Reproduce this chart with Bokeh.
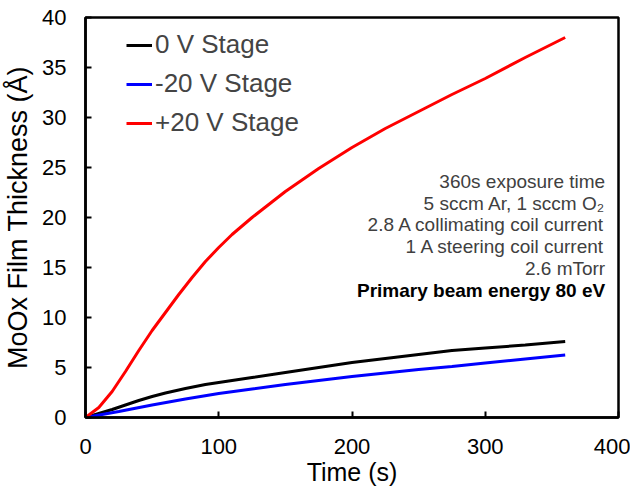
from bokeh.plotting import figure
from bokeh.models import Range1d, Legend, LegendItem, Label, FixedTicker
from bokeh.embed import file_html
from bokeh.resources import INLINE

# ---- data ----
t_red = [0, 10, 20, 30, 40, 50, 60, 70, 80, 90, 100, 110, 125, 150, 175, 200, 225, 250, 275, 300, 330, 360]
v_red = [0, 1.0, 2.6, 4.6, 6.7, 8.7, 10.5, 12.3, 14.0, 15.6, 17.0, 18.3, 20.0, 22.6, 24.9, 27.0, 28.9, 30.6, 32.3, 33.9, 36.0, 38.0]

t_black = [0, 10, 20, 30, 40, 50, 60, 75, 90, 100, 125, 150, 175, 200, 225, 250, 275, 300, 330, 360]
v_black = [0, 0.4, 0.8, 1.25, 1.7, 2.1, 2.45, 2.9, 3.3, 3.5, 4.0, 4.5, 5.0, 5.5, 5.9, 6.3, 6.7, 6.95, 7.25, 7.6]

t_blue = [0, 25, 50, 75, 100, 125, 150, 175, 200, 225, 250, 275, 300, 330, 360]
v_blue = [0, 0.6, 1.25, 1.85, 2.4, 2.85, 3.3, 3.7, 4.1, 4.45, 4.8, 5.1, 5.45, 5.85, 6.25]

series_names = ["0 V Stage", "-20 V Stage", "+20 V Stage"]
x_ticks = [0, 100, 200, 300, 400]
y_ticks = [0, 5, 10, 15, 20, 25, 30, 35, 40]
notes = ["360s exposure time", "5 sccm Ar, 1 sccm O\u2082", "2.8 A collimating coil current",
         "1 A steering coil current", "2.6 mTorr", "Primary beam energy 80 eV"]

FONT = "Liberation Sans"

p = figure(width=630, height=490, output_backend="svg", toolbar_location=None,
           x_range=Range1d(0, 400), y_range=Range1d(0, 40),
           min_border_left=80, min_border_top=17, min_border_right=12, min_border_bottom=73)
p.background_fill_color = "white"
p.border_fill_color = "white"
p.outline_line_color = "black"
p.outline_line_width = 2.5
p.outline_line_alpha = 1
p.grid.visible = False

p.xaxis.ticker = FixedTicker(ticks=x_ticks)
p.yaxis.ticker = FixedTicker(ticks=y_ticks)
for ax in (p.xaxis[0], p.yaxis[0]):
    ax.axis_line_width = 2.5
    ax.axis_line_color = "black"
    ax.major_tick_in = 6
    ax.major_tick_out = 0
    ax.major_tick_line_width = 2
    ax.major_tick_line_color = "black"
    ax.minor_tick_line_color = None
    ax.major_label_text_font = FONT
    ax.major_label_text_font_size = "22px"
    ax.major_label_text_color = "black"
    ax.axis_label_text_font = FONT
    ax.axis_label_text_font_size = "25px"
    ax.axis_label_text_font_style = "normal"
    ax.axis_label_text_color = "black"

p.xaxis.axis_label = "Time (s)"
p.yaxis.axis_label = "MoOx Film Thickness (\u00c5)"
p.yaxis.axis_label_text_font_size = "27px"
p.xaxis.major_label_standoff = 21
p.yaxis.major_label_standoff = 19
p.xaxis.axis_label_standoff = 1
p.yaxis.axis_label_standoff = 6

r0 = p.line(t_black, v_black, line_color="black", line_width=3)
r1 = p.line(t_blue, v_blue, line_color="#0000ff", line_width=3)
r2 = p.line(t_red, v_red, line_color="#ff0000", line_width=3)

legend = Legend(items=[LegendItem(label=series_names[0], renderers=[r0]),
                       LegendItem(label=series_names[1], renderers=[r1]),
                       LegendItem(label=series_names[2], renderers=[r2])],
                location=(41, 279), margin=0, padding=0, spacing=8,
                glyph_width=26, glyph_height=30, label_height=30, label_standoff=3,
                label_text_font=FONT, label_text_font_size="26px",
                border_line_color=None, background_fill_alpha=0)
p.add_layout(legend)

# annotation block (right-aligned)
x_note = 390
y_first = 23.6
step = 2.17
for i, s in enumerate(notes):
    bold = (i == len(notes) - 1)
    p.add_layout(Label(x=x_note, y=y_first - i * step, text=s, text_align="right",
                       text_baseline="alphabetic", text_font=FONT, text_font_size="19px",
                       text_font_style="bold" if bold else "normal",
                       text_color="black" if bold else "#404040"))

open("out.html", "w").write(file_html(p, INLINE))
